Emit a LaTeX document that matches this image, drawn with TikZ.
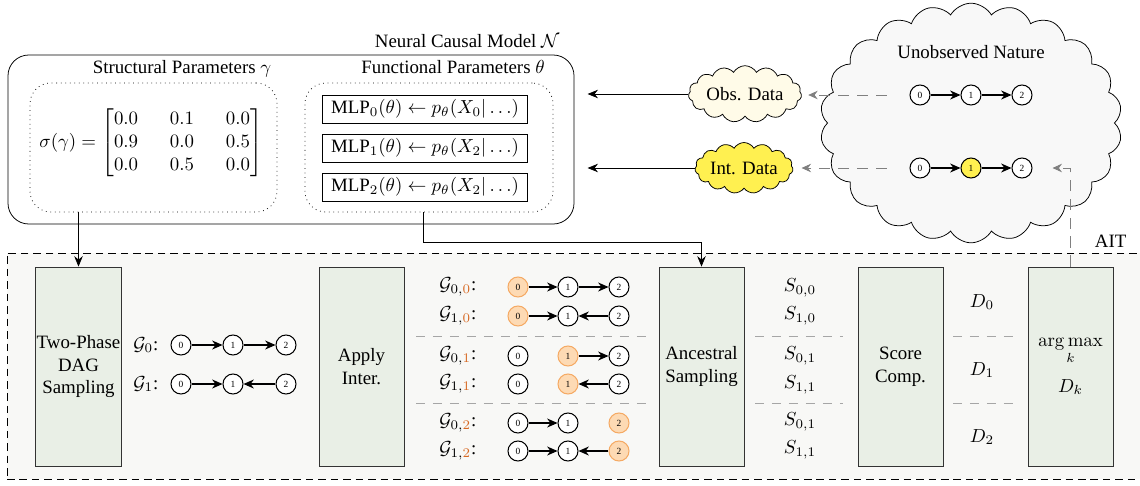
\documentclass[tikz,border=0pt]{standalone}
\usepackage{amsmath}
\usepackage[no-math]{fontspec}
\setmainfont{Liberation Serif}
\usetikzlibrary{shapes.symbols,arrows.meta,fit}
\definecolor{boxgreen}{RGB}{233,239,230}
\definecolor{aitbg}{RGB}{248,248,246}
\definecolor{cloudbg}{RGB}{248,248,248}
\definecolor{obsfill}{RGB}{255,251,232}
\definecolor{intfill}{RGB}{255,240,80}
\definecolor{orfill}{RGB}{253,218,180}
\definecolor{ordraw}{RGB}{245,170,100}
\definecolor{ortext}{RGB}{215,105,35}
\begin{document}
\begin{tikzpicture}[x=0.53pt,y=-0.53pt,
  gn/.style={circle,draw,line width=0.55pt,fill=white,minimum size=10.6pt,inner sep=0pt,font=\tiny},
  orn/.style={gn,draw=ordraw,fill=orfill},
  yn/.style={gn,fill=intfill},
  ga/.style={line width=0.55pt,-{Stealth[length=5.5pt,width=4.8pt]}},
  arr/.style={-{Stealth[length=5.5pt,width=4.5pt]}},
  dasharr/.style={-{Stealth[length=5pt,width=4.5pt]},gray,dash pattern=on 6pt off 4pt},
  sep/.style={gray!70,dash pattern=on 5pt off 4pt},
  gbox/.style={draw=black!80,fill=boxgreen,minimum width=45pt,minimum height=105.5pt,inner sep=0.5pt,align=center},
  dotbox/.style={draw,dotted,rounded corners=11pt,inner sep=0pt},
  mlp/.style={draw,minimum width=109pt,minimum height=14.8pt,inner sep=1pt},
  cl/.style={cloud,draw,cloud puffs=15,cloud puff arc=120,cloud ignores aspect,inner sep=0pt}
]
\useasboundingbox (0,0) rectangle (1140,485);

% ---------------- AIT background ----------------
\node[draw,dash pattern=on 4pt off 2.6pt,fill=aitbg,inner sep=0pt,fit={(7,253)(1150,479)}] (ait) {};
\node[anchor=base east] (aitlabel) at (1133,247) {AIT};

% ---------------- Neural causal model ----------------
\node[draw,rounded corners=11pt,inner sep=0pt,fit={(8,55)(574,224)}] (ncm) {};
\node[anchor=base east] (ncmlabel) at (566,47) {Neural Causal Model $\mathcal{N}$};
\node[dotbox,fit={(30,83)(277,212)}] (struct) {};
\node[anchor=base] (structlabel) at (182,73) {Structural Parameters $\gamma$};
\node[dotbox,fit={(305,83)(553,212)}] (func) {};
\node[anchor=base] (funclabel) at (453,73) {Functional Parameters $\theta$};
\node (mat) at (151,143) {$\sigma(\gamma) = \setlength\arraycolsep{8.45pt}\begin{bmatrix}0.0 & 0.1 & 0.0\\ 0.9 & 0.0 & 0.5\\ 0.0 & 0.5 & 0.0\end{bmatrix}$};
\node[mlp] (mlp0) at (425,109) {MLP$_0(\theta) \leftarrow p_\theta(X_0|\ldots)$};
\node[mlp] (mlp1) at (425,148) {MLP$_1(\theta) \leftarrow p_\theta(X_2|\ldots)$};
\node[mlp] (mlp2) at (425,187) {MLP$_2(\theta) \leftarrow p_\theta(X_2|\ldots)$};

% ---------------- data clouds ----------------
\node[cl,fill=obsfill,minimum width=60pt,minimum height=30pt] (obs) at (745,94) {Obs. Data};
\node[cl,fill=intfill,minimum width=52pt,minimum height=27pt] (int) at (744,168) {Int. Data};
\draw[arr,shorten >=7pt] (obs.west) -- (ncm.east |- obs.west);
\draw[arr,shorten >=7pt] (int.west) -- (ncm.east |- int.west);

% ---------------- Nature ----------------
\node[cloud,draw,fill=cloudbg,cloud puffs=22,cloud puff arc=120,cloud ignores aspect,inner sep=0pt,minimum width=160pt,minimum height=127pt] (nature) at (971,123) {};
\node (natlabel) at (971,52) {Unobserved Nature};
\node[gn] (na0) at (920,95) {0};
\node[gn] (na1) at (971,95) {1};
\node[gn] (na2) at (1022,95) {2};
\draw[ga] (na0) -- (na1);
\draw[ga] (na1) -- (na2);
\node[gn] (nb0) at (920,168) {0};
\node[yn] (nb1) at (971,168) {1};
\node[gn] (nb2) at (1022,168) {2};
\draw[ga] (nb0) -- (nb1);
\draw[ga] (nb1) -- (nb2);
\draw[dasharr,shorten <=12pt,shorten >=3.5pt] (na0.west) -- (obs.east |- na0.west);
\draw[dasharr,shorten <=12pt,shorten >=4.5pt] (nb0.west) -- (int.east |- nb0.west);

% ---------------- pipeline boxes ----------------
\node[gbox] (two) at (78.5,366.5) {Two-Phase\\DAG\\Sampling};
\node[gbox] (apply) at (361.5,366.5) {Apply\\Inter.};
\node[gbox] (anc) at (701.5,366.5) {Ancestral\\Sampling};
\node[gbox] (score) at (900.5,366.5) {Score\\Comp.};
\node[gbox] (argmax) at (1070.5,366.5) {$\mathop{\mathrm{arg\,max}}\limits_{k}$\\[7pt]$D_k$};

\draw[arr] (two.north |- struct.south) -- (two.north);
\draw[arr] ([xshift=-3pt]func.south) -- ++(0,30) -| (anc.north);
\draw[dasharr,shorten >=10.6pt] (argmax.north) |- (nb2.east);

% ---------------- sampled DAGs ----------------
\node[anchor=east] (lg0) at (165,345) {$\mathcal{G}_0$:};
\node[gn] (t00) at (181,345) {0};
\node[gn] (t01) at (233,345) {1};
\node[gn] (t02) at (286,345) {2};
\draw[ga] (t00) -- (t01);
\draw[ga] (t01) -- (t02);
\node[anchor=east] (lg1) at (165,384) {$\mathcal{G}_1$:};
\node[gn] (t10) at (181,384) {0};
\node[gn] (t11) at (233,384) {1};
\node[gn] (t12) at (286,384) {2};
\draw[ga] (t10) -- (t11);
\draw[ga] (t12) -- (t11);

% ---------------- intervened DAGs ----------------
\node[anchor=east] (l00) at (483,287) {$\mathcal{G}_{0,\textcolor{ortext}{0}}$:};
\node[orn] (a00) at (518,287) {0};
\node[gn] (a01) at (568,287) {1};
\node[gn] (a02) at (619,287) {2};
\draw[ga] (a00) -- (a01);
\draw[ga] (a01) -- (a02);

\node[anchor=east] (l10) at (483,316) {$\mathcal{G}_{1,\textcolor{ortext}{0}}$:};
\node[orn] (b00) at (518,316) {0};
\node[gn] (b01) at (568,316) {1};
\node[gn] (b02) at (619,316) {2};
\draw[ga] (b00) -- (b01);
\draw[ga] (b02) -- (b01);

\node[anchor=east] (l01) at (483,356) {$\mathcal{G}_{0,\textcolor{ortext}{1}}$:};
\node[gn] (c00) at (518,356) {0};
\node[orn] (c01) at (568,356) {1};
\node[gn] (c02) at (619,356) {2};
\draw[ga] (c01) -- (c02);

\node[anchor=east] (l11) at (483,384) {$\mathcal{G}_{1,\textcolor{ortext}{1}}$:};
\node[gn] (d00) at (518,384) {0};
\node[orn] (d01) at (568,384) {1};
\node[gn] (d02) at (619,384) {2};
\draw[ga] (d02) -- (d01);

\node[anchor=east] (l02) at (483,423) {$\mathcal{G}_{0,\textcolor{ortext}{2}}$:};
\node[gn] (e00) at (518,423) {0};
\node[gn] (e01) at (568,423) {1};
\node[orn] (e02) at (619,423) {2};
\draw[ga] (e00) -- (e01);

\node[anchor=east] (l12) at (483,451) {$\mathcal{G}_{1,\textcolor{ortext}{2}}$:};
\node[gn] (f00) at (518,451) {0};
\node[gn] (f01) at (568,451) {1};
\node[orn] (f02) at (619,451) {2};
\draw[ga] (f00) -- (f01);
\draw[ga] (f02) -- (f01);

% ---------------- samples and scores ----------------
\node (s00) at (800,288) {$S_{0,0}$};
\node (s10) at (800,316) {$S_{1,0}$};
\node (s01) at (800,356) {$S_{0,1}$};
\node (s11) at (800,385) {$S_{1,1}$};
\node (s02) at (800,422) {$S_{0,1}$};
\node (s12) at (800,450) {$S_{1,1}$};
\node (dd0) at (982,302) {$D_0$};
\node (dd1) at (982,370) {$D_1$};
\node (dd2) at (982,437) {$D_2$};

% ---------------- separators ----------------
\draw[sep] (416,336) -- (648,336);
\draw[sep] (416,403) -- (648,403);
\draw[sep] (755,336) -- (843,336);
\draw[sep] (755,403) -- (843,403);
\draw[sep] (953,336) -- (1020,336);
\draw[sep] (953,403) -- (1020,403);
\end{tikzpicture}
\end{document}
